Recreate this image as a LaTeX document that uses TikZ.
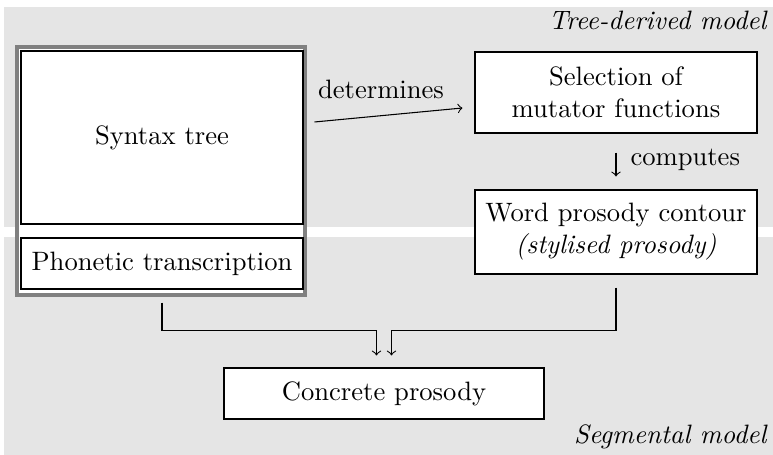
\documentclass[tikz,border=0pt]{standalone}
\usetikzlibrary{calc}
\newcommand{\pxu}{0.376pt}
\tikzset{
  box/.style={draw, fill=white, inner sep=0pt, align=center, anchor=center},
  bandfill/.style={fill=gray!20, draw=none},
  lbl/.style={inner sep=0pt},
}
\begin{document}
\begin{tikzpicture}[x=\pxu, y=-\pxu]
\useasboundingbox (0,0) rectangle (773,455);
\fill[bandfill] (4,7) rectangle (773,227);
\fill[bandfill] (4,237) rectangle (773,455);
\node[draw=gray, line width=1.45pt, fill=white, inner sep=0pt,
      minimum width={288*\pxu}, minimum height={248*\pxu}] (frame) at (161,171) {};
\node[box, minimum width={282*\pxu}, minimum height={173*\pxu}] (syntax) at (162,137.5) {Syntax tree};
\node[box, minimum width={282*\pxu}, minimum height={51*\pxu}] (phon) at (162,263.5) {Phonetic transcription};
\node[box, minimum width={282*\pxu}, minimum height={81*\pxu}] (sel) at (616,92.5) {Selection of\\mutator functions};
\node[box, minimum width={282*\pxu}, minimum height={84*\pxu}] (word) at (616,232) {Word prosody contour\\\textit{(stylised prosody)}};
\node[box, minimum width={320*\pxu}, minimum height={51*\pxu}] (conc) at (384,393.5) {Concrete prosody};
\draw[->] ($(syntax.east)+(11,-15.5)$) -- ($(sel.west)+(-12,15.5)$);
\node[lbl] (detl) at (381,89) {determines};
\draw[->] ($(sel.south)+(0,19)$) -- ($(word.north)+(0,-13)$);
\node[lbl, anchor=west] (compl) at (630,160) {computes};
\draw[->] ($(phon.south)+(0,13)$) |- ($(conc.north)+(-7.5,-37)$) -- ($(conc.north)+(-7.5,-12)$);
\draw[->] ($(word.south)+(0,13)$) |- ($(conc.north)+(7.5,-37)$) -- ($(conc.north)+(7.5,-12)$);
\node[lbl, anchor=east, font=\itshape] (tdm) at (767,20) {Tree-derived model};
\node[lbl, anchor=east, font=\itshape] (segm) at (767,437) {Segmental model};
\end{tikzpicture}
\end{document}
